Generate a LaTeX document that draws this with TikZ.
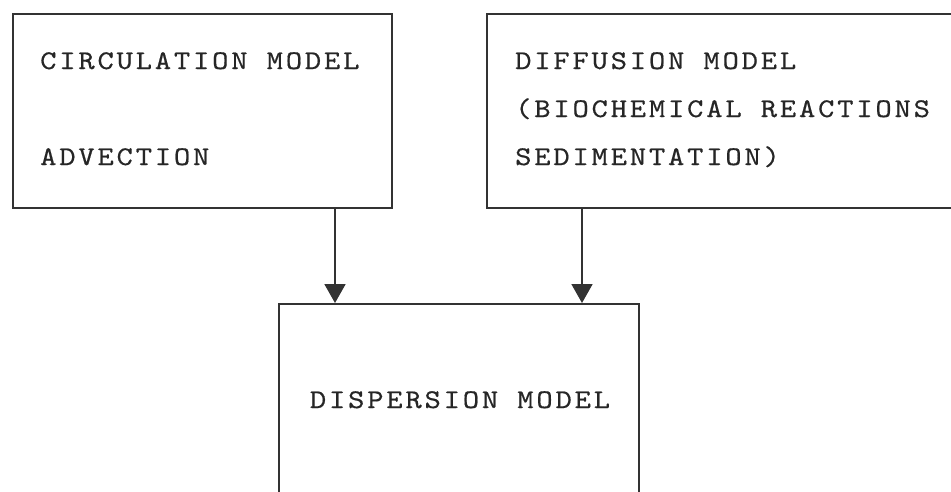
\documentclass[tikz,border=0pt]{standalone}
\usepackage{fontspec}
\newfontfamily\twfont{lmmono10-regular.otf}[LetterSpace=10.4, FakeStretch=1.15, FakeBold=0.5]
\usetikzlibrary{arrows.meta}
\begin{document}
\begin{tikzpicture}[x=1pt,y=-1pt,
  box/.style={draw=black!80, line width=1.9pt, inner sep=0pt, anchor=north west},
  lbl/.style={font=\fontsize{27}{27}\selectfont\twfont, inner sep=0pt, text=black!85},
  arr/.style={draw=black!80, line width=1.9pt, -{Triangle[width=21pt,length=19pt]}}]
\useasboundingbox (0,0) rectangle (951,491);
\clip (0,0) rectangle (951,491);
\node[box, minimum width=379pt, minimum height=194pt] (circ) at (12,13) {};
\node[box, minimum width=520pt, minimum height=194pt] (diff) at (486,13) {};
\node[box, minimum width=360pt, minimum height=260pt] (disp) at (278,303) {};
\node[lbl, anchor=base west] (t1) at (40,69) {CIRCULATION MODEL};
\node[lbl, anchor=base west] (t2) at (40,165) {ADVECTION};
\node[lbl, anchor=base west] (t3) at (515,69) {DIFFUSION MODEL};
\node[lbl, anchor=base west] (t4) at (515,117) {(BIOCHEMICAL REACTIONS};
\node[lbl, anchor=base west] (t5) at (515,165) {SEDIMENTATION)};
\node[lbl, anchor=base] (t6) at (460,408) {DISPERSION MODEL};
\coordinate (xa) at (335,0);
\coordinate (xb) at (582,0);
\draw[arr] (xa |- circ.south) -- (xa |- disp.north);
\draw[arr] (xb |- diff.south) -- (xb |- disp.north);
\end{tikzpicture}
\end{document}
